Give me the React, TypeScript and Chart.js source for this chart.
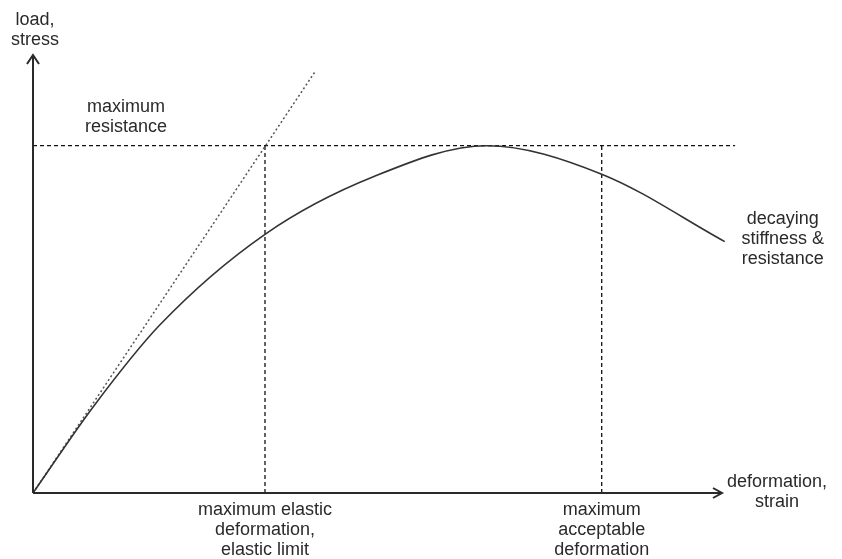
import React, { useEffect, useRef } from "react";
import { Chart, registerables } from "chart.js";

Chart.register(...registerables);

// Schematic load–deformation curve (arbitrary units, 0–100 on each axis)
const deformation = [0, 8.75, 18.43, 33.67, 49.39, 65.85, 82.54, 100.4];
const load = [0, 19.7, 38.4, 59.06, 72.2, 79.29, 72.8, 57.4];

// Initial-stiffness (elastic) tangent
const tangentX = [0, 40.9];
const tangentY = [0, 96.1];

const maxResistance = 79.29;
const elasticLimit = 33.67;
const maxAcceptable = 82.54;
const resistanceLineEnd = 101.9;

const xAxisLabel = ["deformation,", "strain"];
const yAxisLabel = ["load,", "stress"];
const resistanceLabel = ["maximum", "resistance"];
const elasticLabel = ["maximum elastic", "deformation,", "elastic limit"];
const acceptableLabel = ["maximum", "acceptable", "deformation"];
const decayLabel = ["decaying", "stiffness &", "resistance"];

const FONT = '18px "Liberation Sans", Arial, sans-serif';
const TEXT = "#2a2a2a";
const LINE_H = 20;

const annotations = {
  id: "schematicAnnotations",
  afterDatasetsDraw(chart: any) {
    const { ctx, scales } = chart;
    const xs = scales.x;
    const ys = scales.y;
    const ox = xs.getPixelForValue(0);
    const oy = ys.getPixelForValue(0);
    const xTip = xs.getPixelForValue(100);
    const yTip = ys.getPixelForValue(100);

    ctx.save();
    // axes
    ctx.strokeStyle = "#2a2a2a";
    ctx.lineWidth = 2;
    ctx.setLineDash([]);
    ctx.beginPath();
    ctx.moveTo(ox, oy);
    ctx.lineTo(ox, yTip);
    ctx.moveTo(ox, oy);
    ctx.lineTo(xTip, oy);
    ctx.stroke();
    // arrowheads
    ctx.beginPath();
    ctx.moveTo(ox - 6, yTip + 9);
    ctx.lineTo(ox, yTip);
    ctx.lineTo(ox + 6, yTip + 9);
    ctx.moveTo(xTip - 9, oy - 5);
    ctx.lineTo(xTip, oy);
    ctx.lineTo(xTip - 9, oy + 5);
    ctx.stroke();

    // text
    ctx.fillStyle = TEXT;
    ctx.font = FONT;
    ctx.textAlign = "center";
    ctx.textBaseline = "alphabetic";
    const block = (lines: string[], cx: number, firstBaseline: number) => {
      lines.forEach((t, i) => ctx.fillText(t, cx, firstBaseline + i * LINE_H));
    };
    block(yAxisLabel, ox + 2, yTip - 30);
    block(xAxisLabel, xTip + 55, oy - 6);
    const yRes = ys.getPixelForValue(maxResistance);
    block(resistanceLabel, xs.getPixelForValue(13.5), yRes - 34);
    block(elasticLabel, xs.getPixelForValue(elasticLimit), oy + 22);
    block(acceptableLabel, xs.getPixelForValue(maxAcceptable), oy + 22);
    const endX = xs.getPixelForValue(deformation[deformation.length - 1]);
    const endY = ys.getPixelForValue(load[load.length - 1]);
    block(decayLabel, endX + 58, endY - 18);
    ctx.restore();
  },
};

export default function App() {
  const ref = useRef<HTMLCanvasElement>(null);

  useEffect(() => {
    if (!ref.current) return;
    const dashed = {
      borderColor: "#111",
      borderWidth: 1.3,
      borderDash: [4, 3],
      pointRadius: 0,
      showLine: true,
      clip: false,
    };
    const chart = new Chart(ref.current, {
      type: "scatter",
      data: {
        datasets: [
          {
            label: "load",
            data: deformation.map((x, i) => ({ x, y: load[i] })),
            borderColor: "#333",
            borderWidth: 1.6,
            pointRadius: 0,
            showLine: true,
            cubicInterpolationMode: "monotone",
            clip: false,
          },
          {
            label: "tangent",
            data: tangentX.map((x, i) => ({ x, y: tangentY[i] })),
            borderColor: "#555",
            borderWidth: 1.5,
            borderDash: [2, 2.5],
            pointRadius: 0,
            showLine: true,
            clip: false,
          },
          {
            label: "max resistance",
            data: [
              { x: 0, y: maxResistance },
              { x: resistanceLineEnd, y: maxResistance },
            ],
            ...dashed,
          },
          {
            label: "elastic limit",
            data: [
              { x: elasticLimit, y: 0 },
              { x: elasticLimit, y: maxResistance },
            ],
            ...dashed,
          },
          {
            label: "max acceptable",
            data: [
              { x: maxAcceptable, y: 0 },
              { x: maxAcceptable, y: maxResistance },
            ],
            ...dashed,
          },
        ],
      } as any,
      options: {
        animation: false,
        responsive: false,
        events: [],
        layout: { padding: { left: 33, right: 120, top: 55, bottom: 66 } },
        plugins: { legend: { display: false }, tooltip: { enabled: false } },
        scales: {
          x: { type: "linear", min: 0, max: 100, display: false },
          y: { type: "linear", min: 0, max: 100, display: false },
        },
      } as any,
      plugins: [annotations],
    });
    return () => chart.destroy();
  }, []);

  return (
    <div style={{ position: "absolute", left: 0, top: 0, width: 842, height: 559, background: "#fff" }}>
      <canvas ref={ref} width={842} height={559} style={{ display: "block" }} />
    </div>
  );
}
